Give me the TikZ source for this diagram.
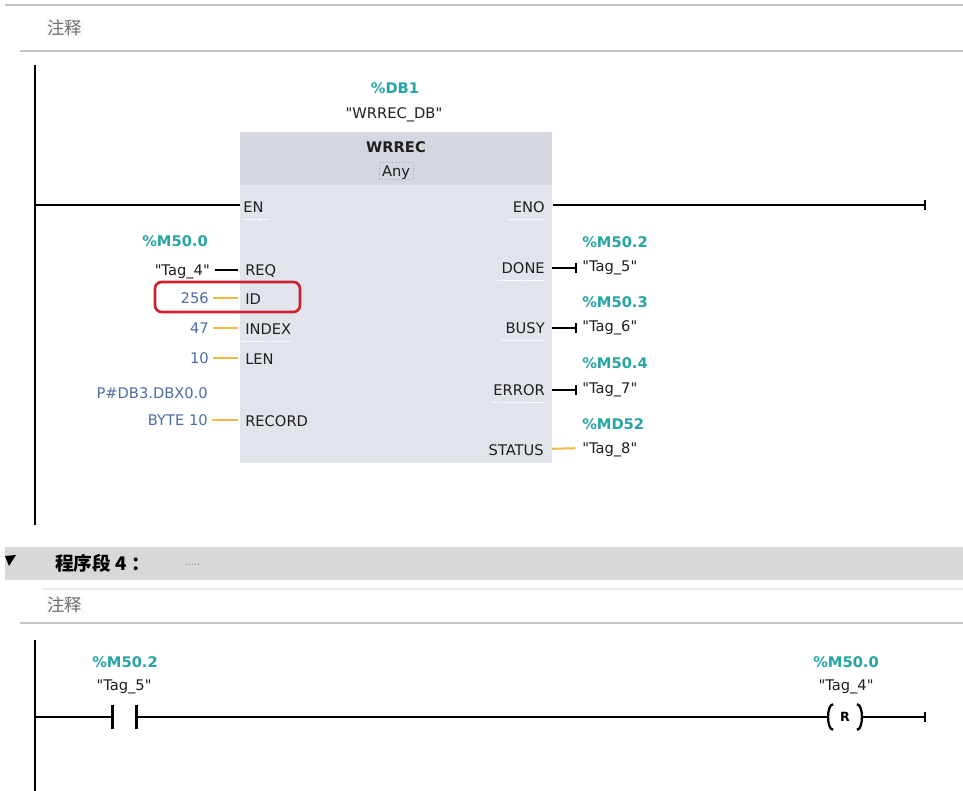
\documentclass[tikz,border=0pt]{standalone}
\usepackage{fontspec}
\setmainfont{DejaVu Sans}[Ligatures=TeXOff]
\newfontfamily\cjk{Noto Sans CJK SC}
\usetikzlibrary{arrows.meta}
\newcommand\dq{\symbol{34}}
\definecolor{teal2}{RGB}{38,164,166}
\definecolor{valblue}{RGB}{78,108,164}
\definecolor{wireor}{RGB}{240,186,66}
\definecolor{hdrgray}{RGB}{212,215,223}
\definecolor{bodygray}{RGB}{226,228,235}
\definecolor{bargray}{RGB}{216,216,216}
\definecolor{linegray}{RGB}{196,196,196}
\definecolor{cmtgray}{RGB}{110,110,110}
\definecolor{hlred}{RGB}{204,34,46}
\tikzset{
  lbl/.style={inner sep=0pt, text height=8pt, text depth=0pt, font=\fontsize{11}{13}\selectfont, text=black!88},
  pinl/.style={lbl, anchor=west},
  pinr/.style={lbl, anchor=east},
  addr/.style={inner sep=0pt, text height=8pt, text depth=0pt, font=\fontsize{11}{13}\selectfont\bfseries, text=teal2},
  val/.style={lbl, text=valblue, anchor=east},
  tagr/.style={lbl, anchor=west},
  wire/.style={line width=1.7pt, black},
  pwire/.style={line width=1.5pt, black},
  owire/.style={line width=1.5pt, wireor},
  rail/.style={line width=2.2pt, black},
  tick/.style={-{Bar[width=7.5pt,line width=1.6pt]}},
  uline/.style={white, line width=1pt, dash pattern=on 2pt off 0.6pt},
  cmt/.style={inner sep=1pt, anchor=west, font=\cjk\fontsize{13}{15}\selectfont, text=cmtgray, fill=black!2},
}
\begin{document}
\begin{tikzpicture}[x=0.75pt,y=-0.75pt]
\useasboundingbox (0,0) rectangle (963,791);
\fill[white] (0,0) rectangle (963,791);

% ---------- network 3 header lines ----------
\draw[linegray, line width=1.4pt] (5,5) -- (963,5);
\node[cmt] (cmt1) at (46,28) {注释};
\draw[linegray, line width=1.2pt] (20,51) -- (963,51);

% ---------- rail ----------
\coordinate (r1t) at (35,65);
\coordinate (r1b) at (35,525);
\draw[rail] (r1t) -- (r1b);

% ---------- block ----------
\node[fill=hdrgray, inner sep=0pt, minimum width=234pt, minimum height=39.75pt, anchor=north west] (hdr) at (240,132) {};
\node[fill=bodygray, inner sep=0pt, minimum width=234pt, minimum height=208.5pt, anchor=north west] (blk) at (240,185) {};

\node[addr] (db) at (395,88) {\%DB1};
\node[lbl] (dbname) at (394,113) {\dq WRREC\_DB\dq};
\node[lbl, font=\fontsize{11}{13}\selectfont\bfseries] (fb) at (396,147) {WRREC};
\node[lbl, draw=black!35, dotted, inner sep=2.2pt] (any) at (396,171) {Any};

% pins left
\node[pinl] (pEN) at (243,207) {EN};
\node[pinl] (pREQ) at (245,270) {REQ};
\node[pinl] (pID) at (245,299) {ID};
\node[pinl] (pINDEX) at (245,329) {INDEX};
\node[pinl] (pLEN) at (245,359) {LEN};
\node[pinl] (pREC) at (245,421) {RECORD};
% pins right
\node[pinr] (pENO) at (545,207) {ENO};
\node[pinr] (pDONE) at (545,268) {DONE};
\node[pinr] (pBUSY) at (545,328) {BUSY};
\node[pinr] (pERR) at (545,390) {ERROR};
\node[pinr] (pSTAT) at (544,450) {STATUS};

% faint underlines of pins
\draw[uline] (pEN.south west) ++(0,7) -- ++(27,0);
\draw[uline] (pENO.south east) ++(0,7) -- ++(-37,0);
\draw[uline] (pINDEX.south west) ++(-4,7) -- ++(50,0);
\draw[uline] (pDONE.south east) ++(0,7) -- ++(-50,0);
\draw[uline] (pBUSY.south east) ++(0,7) -- ++(-45,0);
\draw[uline] (pERR.south east) ++(0,7) -- ++(-53,0);

% left operands
\node[addr, anchor=east] (aREQ) at (208,241) {\%M50.0};
\node[lbl, anchor=east] (tREQ) at (210,270) {\dq Tag\_4\dq};
\node[val] (vID) at (209,298) {256};
\node[val] (vIDX) at (209,328) {47};
\node[val] (vLEN) at (209,358) {10};
\node[val] (vREC1) at (208,393) {P\#DB3.DBX0.0};
\node[val] (vREC) at (208,420) {BYTE 10};

\draw[pwire, shorten <=3.5pt, shorten >=5pt] (tREQ.east) -- (tREQ.east -| pREQ.west);
\draw[owire, shorten <=3pt, shorten >=5pt] (vID.east) -- (vID.east -| pID.west);
\draw[owire, shorten <=3pt, shorten >=5pt] (vIDX.east) -- (vIDX.east -| pINDEX.west);
\draw[owire, shorten <=3pt, shorten >=5pt] (vLEN.east) -- (vLEN.east -| pLEN.west);
\draw[owire, shorten <=3pt, shorten >=5pt] (vREC.east) -- (vREC.east -| pREC.west);

% highlight
\node[draw=hlred, line width=2pt, rounded corners=5pt, minimum width=108.75pt, minimum height=22.5pt, inner sep=0pt] (hl) at (227.5,297) {};

% right operands
\node[addr, anchor=west] (aDONE) at (582,242) {\%M50.2};
\node[tagr] (tDONE) at (582,266) {\dq Tag\_5\dq};
\node[addr, anchor=west] (aBUSY) at (582,302) {\%M50.3};
\node[tagr] (tBUSY) at (582,326) {\dq Tag\_6\dq};
\node[addr, anchor=west] (aERR) at (582,363) {\%M50.4};
\node[tagr] (tERR) at (582,388) {\dq Tag\_7\dq};
\node[addr, anchor=west] (aSTAT) at (582,424) {\%MD52};
\node[tagr] (tSTAT) at (582,448) {\dq Tag\_8\dq};

\draw[pwire, tick, shorten <=5.25pt, shorten >=3.75pt] (pDONE.east) -- (pDONE.east -| tDONE.west);
\draw[pwire, tick, shorten <=5.25pt, shorten >=3.75pt] (pBUSY.east) -- (pBUSY.east -| tBUSY.west);
\draw[pwire, tick, shorten <=5.25pt, shorten >=3.75pt] (pERR.east) -- (pERR.east -| tERR.west);
\draw[owire, shorten <=6pt, shorten >=5pt] (pSTAT.east) ++(0,-1) -- (tSTAT.west);

% power flow
\coordinate (rA) at (35,205);
\coordinate (eA) at (926,205);
\draw[wire] (rA) -- (rA -| blk.west);
\draw[wire, tick] (eA -| blk.east) -- (eA);

% ---------- network 4 ----------
\fill[bargray] (5,547) rectangle (963,580);
\fill[black] (5,556) -- (16,555) -- (9,566) -- cycle;
\node[inner sep=0pt, anchor=west, font=\cjk\bfseries\fontsize{14}{16}\selectfont] (nw) at (55,563) {程序段 4 ：};
\node[inner sep=0pt, anchor=west, font=\fontsize{7}{8}\selectfont, text=black!45] (nwdots) at (185,565) {.....};
\draw[black!8, line width=0.8pt] (43,589) -- (963,589);
\node[cmt] (cmt2) at (46,605) {注释};
\draw[linegray, line width=1.2pt] (20,623) -- (963,623);

\coordinate (r2t) at (35,640);
\coordinate (r2b) at (35,791);
\draw[rail] (r2t) -- (r2b);

% contact
\node[addr] (aC) at (125,662) {\%M50.2};
\node[lbl] (tC) at (124,685) {\dq Tag\_5\dq};
\node[inner sep=0pt, minimum width=17.25pt, minimum height=17.25pt] (c1) at (124.5,717) {};
\draw[line width=2pt] (c1.north west) -- (c1.south west);
\draw[line width=2pt] (c1.north east) -- (c1.south east);

% coil
\node[addr] (aK) at (846,662) {\%M50.0};
\node[lbl] (tK) at (846,685) {\dq Tag\_4\dq};
\node[inner sep=0pt, minimum width=25.5pt, minimum height=18.75pt, font=\fontsize{9.5}{10}\selectfont\bfseries] (coil) at (845,717) {R};
\draw[wire] ([xshift=4pt]coil.north west) .. controls ([xshift=-1pt]coil.north west) and ([xshift=-1pt]coil.south west) .. ([xshift=4pt]coil.south west);
\draw[wire] ([xshift=-4pt]coil.north east) .. controls ([xshift=1pt]coil.north east) and ([xshift=1pt]coil.south east) .. ([xshift=-4pt]coil.south east);

\coordinate (rB) at (35,717);
\coordinate (eB) at (926,717);
\draw[wire] (rB) -- (c1.west);
\draw[wire] (c1.east) -- (coil.west);
\draw[wire, tick] (coil.east) -- (eB);
\end{tikzpicture}
\end{document}
